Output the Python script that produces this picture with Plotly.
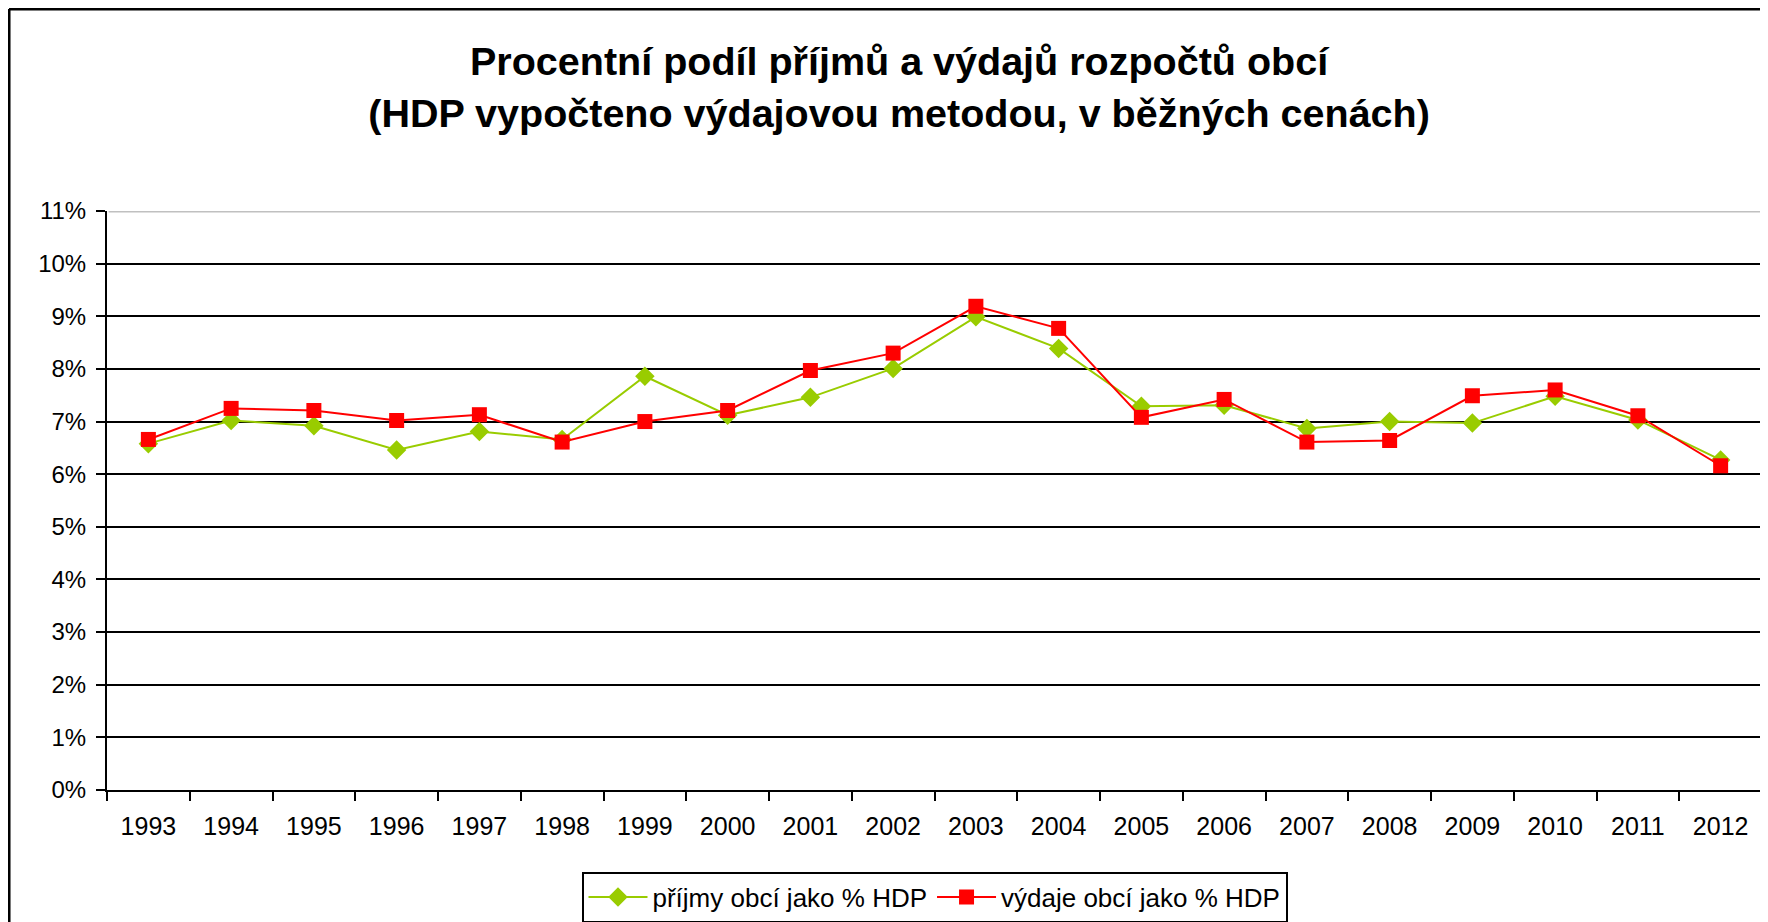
import plotly.graph_objects as go

years = [str(y) for y in range(1993, 2013)]
prijmy = [6.58, 7.02, 6.92, 6.46, 6.81, 6.66, 7.86, 7.12, 7.46, 8.01,
          8.99, 8.39, 7.29, 7.31, 6.87, 7.00, 6.97, 7.48, 7.03, 6.27]
vydaje = [6.66, 7.25, 7.21, 7.02, 7.13, 6.61, 7.00, 7.21, 7.97, 8.30,
          9.19, 8.77, 7.08, 7.42, 6.61, 6.64, 7.49, 7.60, 7.11, 6.16]
ytick_vals = list(range(0, 12))
ytick_text = [f"{v}%" for v in ytick_vals]

title_lines = ["Procentní podíl příjmů a výdajů rozpočtů obcí",
               "(HDP vypočteno výdajovou metodou, v běžných cenách)"]
name_prijmy = "příjmy obcí jako % HDP"
name_vydaje = "výdaje obcí jako % HDP"

FONT = "Liberation Sans, Arial, sans-serif"

fig = go.Figure()
fig.add_trace(go.Scatter(
    x=years, y=prijmy, name=name_prijmy, mode="lines+markers",
    line=dict(color="#99CC00", width=2),
    marker=dict(symbol="diamond", size=15, color="#99CC00"),
))
fig.add_trace(go.Scatter(
    x=years, y=vydaje, name=name_vydaje, mode="lines+markers",
    line=dict(color="#FF0000", width=2),
    marker=dict(symbol="square", size=15, color="#FF0000"),
))

fig.update_layout(
    width=1768, height=922,
    margin=dict(l=99, r=14, t=203, b=140, autoexpand=False),
    paper_bgcolor="white", plot_bgcolor="white",
    font=dict(family=FONT, color="black", size=24),
    title=dict(
        text="<b>" + title_lines[0] + "</b><br><b>" + title_lines[1] + "</b>",
        x=0.504, xanchor="center", y=0.927, yanchor="middle",
        font=dict(family=FONT, size=39.5, color="black"),
    ),
    showlegend=True,
    legend=dict(
        orientation="h", x=0.5, xanchor="center", y=-0.141, yanchor="top",
        bordercolor="black", borderwidth=2, bgcolor="white",
        font=dict(family=FONT, size=26, color="black"),
        itemwidth=59,
    ),
    xaxis=dict(
        type="category", showgrid=False, zeroline=False, automargin=False,
        showline=True, linecolor="black", linewidth=2,
        ticks="outside", tickson="boundaries", ticklen=9, tickwidth=2, tickcolor="black",
        ticklabelstandoff=13,
        tickfont=dict(family=FONT, size=25, color="black"),
        range=[-0.5, 19.5],
    ),
    yaxis=dict(
        range=[0, 11], tickvals=ytick_vals, ticktext=ytick_text, automargin=False,
        showgrid=True, gridcolor="black", gridwidth=2,
        zeroline=False, showline=True, linecolor="black", linewidth=2,
        ticks="outside", ticklen=9, tickwidth=2, tickcolor="black",
        ticklabelstandoff=5,
        tickfont=dict(family=FONT, size=24, color="black"),
    ),
    shapes=[
        dict(type="line", xref="paper", yref="y", x0=0.001, x1=1, y0=11, y1=11,
             line=dict(color="#C0C0C0", width=3), layer="above"),
        dict(type="line", xref="paper", yref="paper", x0=-0.0592, x1=-0.0592,
             y0=-0.25, y1=1.349, line=dict(color="black", width=3)),
        dict(type="line", xref="paper", yref="paper", x0=-0.0592, x1=1.02,
             y0=1.349, y1=1.349, line=dict(color="black", width=3)),
    ],
)

fig.write_html("out.html")
